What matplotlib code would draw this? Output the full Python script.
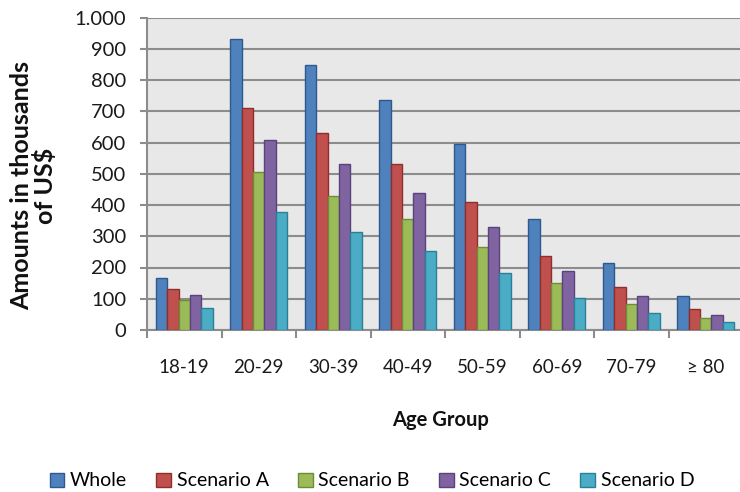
import matplotlib
matplotlib.use("Agg")
import matplotlib.pyplot as plt
import numpy as np

age_groups = ["18-19", "20-29", "30-39", "40-49", "50-59", "60-69", "70-79", "\u2265 80"]
series_names = ["Whole", "Scenario A", "Scenario B", "Scenario C", "Scenario D"]
whole = [165, 930, 848, 736, 595, 354, 213, 108]
scenario_a = [130, 712, 630, 530, 409, 237, 138, 66]
scenario_b = [95, 507, 430, 354, 267, 149, 84, 37]
scenario_c = [113, 607, 530, 437, 331, 190, 109, 49]
scenario_d = [71, 378, 313, 254, 183, 102, 55, 27]

fills = ["#4F81BD", "#C0504D", "#9BBB59", "#8064A2", "#4BACC6"]
edges = ["#2C5A8F", "#8E2F2C", "#6E8C38", "#59437A", "#2C8096"]

plt.rcParams["font.family"] = ["Lato", "DejaVu Sans"]

fig = plt.figure(figsize=(7.4, 4.92), dpi=100)
ax = fig.add_axes([147 / 740, 162 / 492, 596 / 740, 312.5 / 492])
ax.set_facecolor("#E8E8E8")

bw = 1 / 6.5
x = np.arange(len(age_groups)) + 0.5
data = [whole, scenario_a, scenario_b, scenario_c, scenario_d]
for i, (name, vals) in enumerate(zip(series_names, data)):
    ax.bar(x + (i - 2) * bw, vals, width=bw, color=fills[i], edgecolor=edges[i],
           linewidth=1.0, label=name, zorder=3)

ax.set_xlim(0, len(age_groups))
ax.set_ylim(0, 1000)
ax.set_yticks(range(0, 1001, 100))
ax.set_yticklabels(["0", "100", "200", "300", "400", "500", "600", "700", "800", "900", "1.000"])
ax.yaxis.grid(True, color="#8C8C8C", lw=1.5, zorder=0)
ax.set_axisbelow(True)

# category boundaries get the tick marks, labels sit on the centres
ax.set_xticks(np.arange(0, len(age_groups) + 1))
ax.set_xticklabels([])
ax.set_xticks(x, minor=True)
ax.set_xticklabels(age_groups, minor=True, fontsize=13.5, color="#1A1A1A")
ax.tick_params(axis="x", which="major", length=6, width=1.5, color="#8C8C8C", direction="out")
ax.tick_params(axis="x", which="minor", length=0, pad=21)
ax.tick_params(axis="y", length=5, width=1.5, color="#8C8C8C", labelsize=14.5,
               labelcolor="#1A1A1A", pad=10)

for s in ["top", "right"]:
    ax.spines[s].set_visible(False)
for s in ["left", "bottom"]:
    ax.spines[s].set_color("#8C8C8C")
    ax.spines[s].set_linewidth(1.5)

fig.text(34 / 740, 1 - 186 / 492, "Amounts in thousands\nof US$", rotation=90,
         ha="center", va="center", multialignment="center", fontsize=18,
         fontweight="bold", color="#111111", linespacing=1.0)
fig.text(441 / 740, 1 - 420 / 492, "Age Group", ha="center", va="center",
         fontsize=14.5, fontweight="bold", color="#111111")

fig.legend(loc="center", bbox_to_anchor=(372 / 740, 1 - 481 / 492), ncol=5, frameon=False,
           fontsize=14, handlelength=0.75, handleheight=0.75, handletextpad=0.3,
           columnspacing=1.5, borderaxespad=0)

fig.savefig("out.png", dpi=100)
